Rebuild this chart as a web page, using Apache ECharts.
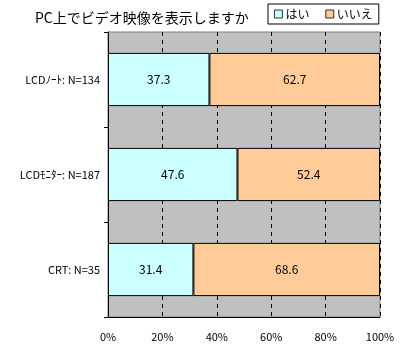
<!DOCTYPE html>
<html><head><meta charset="utf-8">
<script src="https://cdn.jsdelivr.net/npm/echarts@6/dist/echarts.min.js"></script>
<style>html,body{margin:0;padding:0;background:#fff}#c{width:400px;height:350px}</style>
</head><body><div id="c"></div>
<script>
const categories = ['LCDﾉｰﾄ: N=134', 'LCDﾓﾆﾀｰ: N=187', 'CRT: N=35'];
const seriesNames = ['はい', 'いいえ'];
const yesValues = [37.3, 47.6, 31.4];
const noValues = [62.7, 52.4, 68.6];
const xTicks = [0, 20, 40, 60, 80, 100];

const FONT = '"Noto Sans CJK JP", sans-serif';
const chart = echarts.init(document.getElementById('c'));
const mkSeries = (name, data, color) => ({
  name, type: 'bar', stack: 'total', data,
  barCategoryGap: '44%',
  itemStyle: { color, borderColor: '#000', borderWidth: 1 },
  label: { show: true, position: 'inside', color: '#000', fontSize: 12, fontFamily: FONT,
           formatter: p => p.value.toFixed(1) }
});
chart.setOption({
  animation: false,
  textStyle: { fontFamily: FONT },
  title: { text: 'PC上でビデオ映像を表示しますか', left: 30, top: 6,
           textStyle: { fontSize: 14, fontWeight: 'normal', color: '#000', fontFamily: FONT } },
  legend: {
    data: seriesNames, left: 268, top: 4, padding: [4, 6, 4, 6],
    borderColor: '#000', borderWidth: 1, backgroundColor: '#fff',
    itemWidth: 8, itemHeight: 8, itemGap: 16, icon: 'rect',
    itemStyle: { borderWidth: 0.8, borderColor: '#000' },
    textStyle: { fontSize: 12, color: '#000', fontFamily: FONT, padding: [0, 0, 0, -2] }
  },
  grid: { left: 108, right: 20, top: 32, bottom: 33, show: true,
          backgroundColor: '#C0C0C0', borderColor: '#808080', borderWidth: 1 },
  xAxis: {
    type: 'value', min: xTicks[0], max: xTicks[xTicks.length - 1], interval: 20,
    axisLine: { show: true, lineStyle: { color: '#000' } },
    axisTick: { show: false },
    axisLabel: { formatter: '{value}%', color: '#000', fontSize: 11, margin: 14, fontFamily: FONT },
    splitLine: { show: true, lineStyle: { color: '#000', type: [4, 4], width: 1 } }
  },
  yAxis: {
    type: 'category', data: categories, inverse: true,
    axisLine: { show: true, lineStyle: { color: '#000' } },
    axisTick: { show: true, length: 4, lineStyle: { color: '#000' } },
    axisLabel: { color: '#000', fontSize: 11, margin: 8, fontFamily: FONT }
  },
  series: [
    mkSeries(seriesNames[0], yesValues, '#CCFFFF'),
    mkSeries(seriesNames[1], noValues, '#FFCC99')
  ]
});
</script></body></html>
